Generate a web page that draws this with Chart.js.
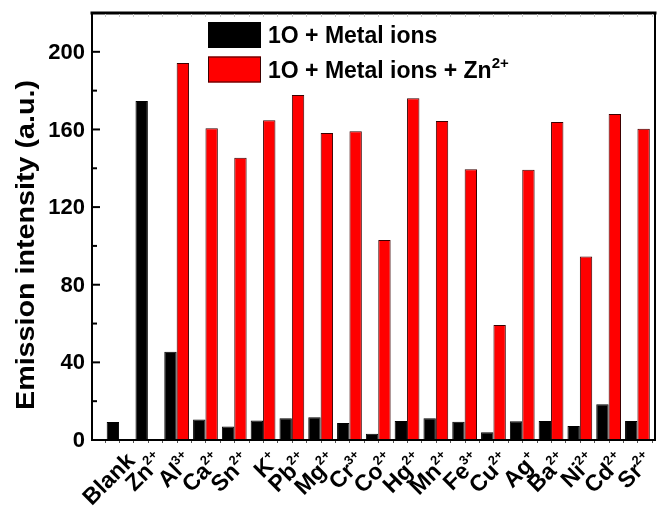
<!DOCTYPE html>
<html lang="en">
<head>
    <meta charset="UTF-8">
    <meta name="viewport" content="width=device-width">
    <script src="https://cdn.jsdelivr.net/npm/chart.js@4/dist/chart.umd.min.js"></script>
    <title>Emission intensity</title>
    <style>
        body { margin: 0; background: #ffffff; }
        .chart-container { position: relative; width: 660px; height: 511px; }
    </style>
</head>
<body>
    <div class="chart-container">
        <canvas id="myChart"></canvas>
    </div>

    <script>
        // ions on the x axis and their charges (drawn as superscripts)
        const ions = ['Blank', 'Zn', 'Al', 'Ca', 'Sn', 'K', 'Pb', 'Mg', 'Cr', 'Co', 'Hg', 'Mn', 'Fe', 'Cu', 'Ag', 'Ba', 'Ni', 'Cd', 'Sr'];
        const charges = ['', '2+', '3+', '2+', '2+', '+', '2+', '2+', '3+', '2+', '2+', '2+', '3+', '2+', '+', '2+', '2+', '2+', '2+'];

        // 1O + Metal ions
        const metalOnly = [9.3, 174.7, 45.5, 10.6, 6.9, 10.1, 11.2, 11.7, 8.8, 3.2, 9.8, 11.2, 9.4, 4.0, 9.6, 9.8, 7.2, 18.4, 9.8];
        // 1O + Metal ions + Zn2+
        const metalZn = [null, null, 194.2, 160.6, 145.4, 164.8, 177.7, 158.2, 159.1, 103.1, 176.1, 164.4, 139.5, 59.3, 139.2, 163.9, 94.5, 168.0, 160.3];

        const yTickLabels = [0, 40, 80, 120, 160, 200];

        const legendItems = [
            { text: '1O + Metal ions', sup: '', color: '#000000', border: '#000000' },
            { text: '1O + Metal ions + Zn', sup: '2+', color: '#ff0000', border: '#3a0000' }
        ];

        const FONT = '"Liberation Sans", Arial, sans-serif';

        function drawSupText(ctx, base, sup, x, y, size, supSize, align) {
            ctx.font = 'bold ' + size + 'px ' + FONT;
            const wb = ctx.measureText(base).width;
            ctx.font = 'bold ' + supSize + 'px ' + FONT;
            const ws = sup ? ctx.measureText(sup).width : 0;
            let start = align === 'right' ? x - wb - ws : x;
            ctx.textAlign = 'left';
            ctx.textBaseline = 'alphabetic';
            ctx.font = 'bold ' + size + 'px ' + FONT;
            ctx.fillText(base, start, y);
            if (sup) {
                ctx.font = 'bold ' + supSize + 'px ' + FONT;
                ctx.fillText(sup, start + wb, y - size * 0.42);
            }
        }

        const framePlugin = {
            id: 'frame',
            afterDatasetsDraw(chart) {
                const { ctx, chartArea: a, scales: { x, y } } = chart;
                ctx.save();
                ctx.strokeStyle = '#000';
                ctx.lineCap = 'square';

                // box
                ctx.lineWidth = 2;
                ctx.beginPath();
                ctx.moveTo(a.left, a.top); ctx.lineTo(a.left, a.bottom);
                ctx.lineTo(a.right, a.bottom); ctx.lineTo(a.right, a.top);
                ctx.stroke();
                ctx.lineWidth = 3;
                ctx.beginPath();
                ctx.moveTo(a.left, a.top); ctx.lineTo(a.right, a.top);
                ctx.stroke();

                // y ticks, pointing inward
                ctx.lineWidth = 2;
                ctx.lineCap = 'butt';
                for (let v = 0; v <= 220; v += 20) {
                    const py = y.getPixelForValue(v);
                    const len = yTickLabels.includes(v) ? 8 : 5;
                    ctx.beginPath();
                    ctx.moveTo(a.left, py); ctx.lineTo(a.left + len, py);
                    ctx.stroke();
                }

                // faint x ticks on top and bottom
                ctx.lineWidth = 1;
                for (let i = -0.5; i <= ions.length - 0.5; i += 0.5) {
                    const px = Math.round(x.getPixelForValue(i)) + 0.5;
                    ctx.strokeStyle = '#c8c8c8';
                    ctx.beginPath();
                    ctx.moveTo(px, a.top + 1); ctx.lineTo(px, a.top + 4);
                    ctx.stroke();
                    ctx.strokeStyle = '#555';
                    ctx.beginPath();
                    ctx.moveTo(px, a.bottom + 1); ctx.lineTo(px, a.bottom + 3);
                    ctx.stroke();
                }
                ctx.restore();
            },
            afterDraw(chart) {
                const { ctx, chartArea: a, scales: { x, y } } = chart;
                ctx.save();
                ctx.fillStyle = '#000';

                // y tick labels
                ctx.font = 'bold 22px ' + FONT;
                ctx.textAlign = 'right';
                ctx.textBaseline = 'middle';
                yTickLabels.forEach(v => {
                    ctx.fillText(String(v), a.left - 7, y.getPixelForValue(v) + 1);
                });

                // rotated ion labels with charges
                ions.forEach((ion, i) => {
                    const cx = x.getPixelForValue(i);
                    ctx.save();
                    ctx.translate(cx + 17, 462);
                    ctx.rotate(-Math.PI / 4);
                    drawSupText(ctx, ion, charges[i], 0, 0, 23, 13, 'right');
                    ctx.restore();
                });

                // y axis title, stretched to the reference length
                ctx.save();
                ctx.translate(27, 245);
                ctx.rotate(-Math.PI / 2);
                ctx.font = 'bold 25px ' + FONT;
                const title = 'Emission intensity (a.u.)';
                const tw = ctx.measureText(title).width;
                ctx.scale(330 / tw, 1);
                ctx.textAlign = 'center';
                ctx.textBaseline = 'middle';
                ctx.fillText(title, 0, 0);
                ctx.restore();

                // legend
                legendItems.forEach((item, k) => {
                    const top = 22 + k * 34.5;
                    ctx.fillStyle = item.color;
                    ctx.fillRect(208, top, 53, 26);
                    ctx.strokeStyle = item.border;
                    ctx.lineWidth = 1;
                    ctx.strokeRect(208.5, top + 0.5, 52, 25);
                    ctx.fillStyle = '#000';
                    drawSupText(ctx, item.text, item.sup, 268, top + 21, 23, 15, 'left');
                });
                ctx.restore();
            }
        };

        const data = {
            datasets: [
                {
                    label: '1O + Metal ions',
                    data: metalOnly.map((v, i) => ({ x: i, y: v })),
                    backgroundColor: '#000000',
                    borderColor: '#000000',
                    borderWidth: 1
                },
                {
                    label: '1O + Metal ions + Zn2+',
                    data: metalZn.map((v, i) => ({ x: i, y: v })),
                    backgroundColor: '#ff0000',
                    borderColor: '#3a0000',
                    borderWidth: 1
                }
            ]
        };

        const options = {
            responsive: true,
            maintainAspectRatio: false,
            animation: false,
            layout: {
                padding: { top: 13, right: 5, left: 0, bottom: 0 }
            },
            datasets: {
                bar: {
                    categoryPercentage: 0.86,
                    barPercentage: 1.0
                }
            },
            scales: {
                x: {
                    type: 'linear',
                    offset: false,
                    min: -0.94,
                    max: 18.61,
                    grid: { display: false, offset: false },
                    border: { display: false },
                    ticks: { display: false },
                    afterFit(scale) { scale.height = 71; }
                },
                y: {
                    min: 0,
                    max: 220,
                    grid: { display: false, drawTicks: false },
                    border: { display: false },
                    ticks: { display: false, stepSize: 20 },
                    afterFit(scale) { scale.width = 92; }
                }
            },
            plugins: {
                legend: { display: false },
                tooltip: { enabled: false }
            }
        };

        const config = {
            type: 'bar',
            data: data,
            options: options,
            plugins: [framePlugin]
        };

        const myChart = new Chart(document.getElementById('myChart'), config);
    </script>
</body>
</html>
